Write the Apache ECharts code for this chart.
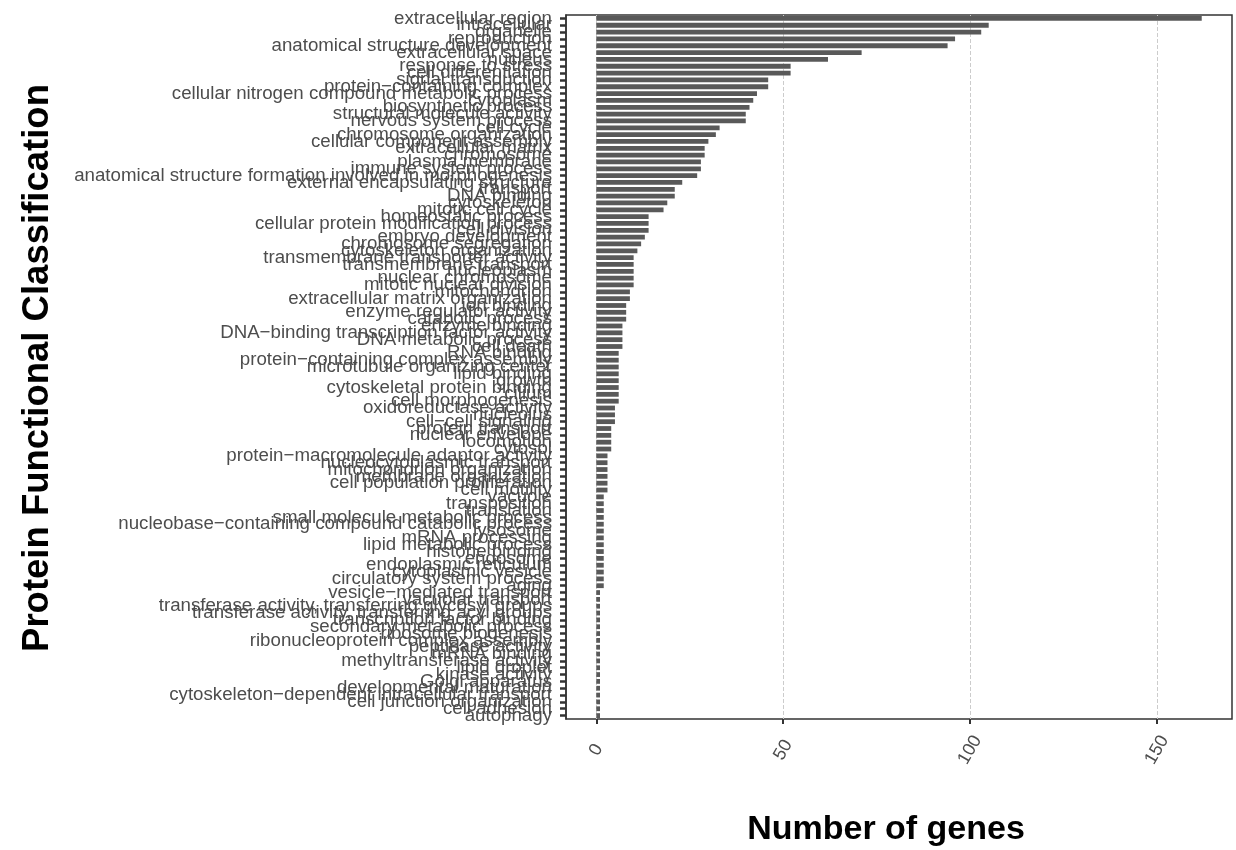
<!DOCTYPE html>
<html>
<head>
<meta charset="utf-8">
<title>Protein Functional Classification</title>
<script src="https://cdn.jsdelivr.net/npm/echarts@6/dist/echarts.min.js"></script>
<style>
  html, body { margin: 0; padding: 0; background: #ffffff; }
  #chart { width: 1236px; height: 850px; }
</style>
</head>
<body>
<div id="chart"></div>
<script>
// GO slim terms, ordered from largest to smallest count (top to bottom)
const categories = [
  "extracellular region", "intracellular", "organelle", "reproduction",
  "anatomical structure development", "extracellular space", "nucleus",
  "response to stress", "cell differentiation", "signal transduction",
  "protein\u2212containing complex", "cellular nitrogen compound metabolic process",
  "cytoplasm", "biosynthetic process", "structural molecule activity",
  "nervous system process", "cell cycle", "chromosome organization",
  "cellular component assembly", "extracellular matrix", "chromosome",
  "plasma membrane", "immune system process",
  "anatomical structure formation involved in morphogenesis",
  "external encapsulating structure", "transport", "DNA binding", "cytoskeleton",
  "mitotic cell cycle", "homeostatic process", "cellular protein modification process",
  "cell division", "embryo development", "chromosome segregation",
  "cytoskeleton organization", "transmembrane transporter activity",
  "transmembrane transport", "nucleoplasm", "nuclear chromosome",
  "mitotic nuclear division", "mitochondrion", "extracellular matrix organization",
  "ion binding", "enzyme regulator activity", "catabolic process", "enzyme binding",
  "DNA\u2212binding transcription factor activity", "DNA metabolic process",
  "cell death", "RNA binding", "protein\u2212containing complex assembly",
  "microtubule organizing center", "lipid binding", "growth",
  "cytoskeletal protein binding", "cilium", "cell morphogenesis",
  "oxidoreductase activity", "nucleolus", "cell\u2212cell signaling",
  "protein transport", "nuclear envelope", "locomotion", "cytosol",
  "protein\u2212macromolecule adaptor activity", "nucleocytoplasmic transport",
  "mitochondrion organization", "membrane organization",
  "cell population proliferation", "cell motility", "vacuole", "transposition",
  "translation", "small molecule metabolic process",
  "nucleobase\u2212containing compound catabolic process", "lysosome",
  "mRNA processing", "lipid metabolic process", "histone binding", "endosome",
  "endoplasmic reticulum", "cytoplasmic vesicle", "circulatory system process",
  "aging", "vesicle\u2212mediated transport", "vacuolar transport",
  "transferase activity, transferring glycosyl groups",
  "transferase activity, transferring acyl groups", "transcription factor binding",
  "secondary metabolic process", "ribosome biogenesis",
  "ribonucleoprotein complex assembly", "peptidase activity", "mRNA binding",
  "methyltransferase activity", "lipid droplet", "kinase activity",
  "Golgi apparatus", "developmental maturation",
  "cytoskeleton\u2212dependent intracellular transport", "cell junction organization",
  "cell adhesion", "autophagy"
];

const geneCounts = [
  162, 105, 103, 96, 94, 71, 62, 52, 52, 46, 46, 43, 42, 41, 40, 40,
  33, 32, 30, 29, 29, 28, 28, 27, 23, 21, 21, 19, 18,
  14, 14, 14, 13, 12, 11, 10, 10, 10, 10, 10, 9, 9, 8, 8, 8,
  7, 7, 7, 7, 6, 6, 6, 6, 6, 6, 6, 6, 5, 5, 5, 4, 4, 4, 4,
  3, 3, 3, 3, 3, 3,
  2, 2, 2, 2, 2, 2, 2, 2, 2, 2, 2, 2, 2, 2,
  1, 1, 1, 1, 1, 1, 1, 1, 1, 1, 1, 1, 1, 1, 1, 1, 1, 1, 1
];

const xTicks = [0, 50, 100, 150];

const FONT = "'Liberation Sans', Arial, Helvetica, sans-serif";

const chart = echarts.init(document.getElementById("chart"));

const option = {
  animation: false,
  backgroundColor: "#ffffff",
  grid: {
    left: 566,
    right: 4,
    top: 15,
    bottom: 131,
    show: true,
    borderColor: "#333333",
    borderWidth: 1.5,
    backgroundColor: "transparent",
  },
  xAxis: {
    type: "value",
    // a little padding either side of the data, like ggplot's default expansion
    min: -8.1,
    max: 170.1,
    axisLine: { show: false, onZero: false },
    axisTick: {
      show: true,
      customValues: xTicks,
      length: 5,
      lineStyle: { color: "#333333", width: 2 },
    },
    axisLabel: {
      customValues: xTicks,
      rotate: 60,
      align: "center",
      verticalAlign: "middle",
      margin: 31,
      fontSize: 18,
      color: "#4d4d4d",
      fontFamily: FONT,
    },
    splitLine: {
      show: true,
      lineStyle: { color: "#cccccc", type: "dashed", width: 1 },
    },
  },
  yAxis: {
    type: "category",
    data: categories,
    inverse: true,
    // keep the axis on the panel edge, not at x = 0
    axisLine: { show: true, onZero: false, lineStyle: { color: "#333333", width: 1.5 } },
    axisTick: {
      show: true,
      alignWithLabel: true,
      length: 6,
      lineStyle: { color: "#333333", width: 2.5 },
    },
    axisLabel: {
      interval: 0,
      fontSize: 18.7,
      color: "#4d4d4d",
      margin: 14,
      fontFamily: FONT,
    },
    splitLine: { show: false },
  },
  series: [
    {
      name: "Number of genes",
      type: "bar",
      data: geneCounts,
      barWidth: "70%",
      itemStyle: { color: "#595959" },
    },
  ],
  graphic: [
    {
      type: "text",
      x: 38,
      y: 368,
      rotation: Math.PI / 2,
      style: {
        text: "Protein Functional Classification",
        fontSize: 36.5,
        fontWeight: "bold",
        fontFamily: FONT,
        fill: "#000000",
        align: "center",
        verticalAlign: "middle",
      },
    },
    {
      type: "text",
      x: 886,
      y: 830,
      style: {
        text: "Number of genes",
        fontSize: 34,
        fontWeight: "bold",
        fontFamily: FONT,
        fill: "#000000",
        align: "center",
        verticalAlign: "middle",
      },
    },
  ],
};

chart.setOption(option);

window.addEventListener("resize", () => chart.resize());
</script>
</body>
</html>
